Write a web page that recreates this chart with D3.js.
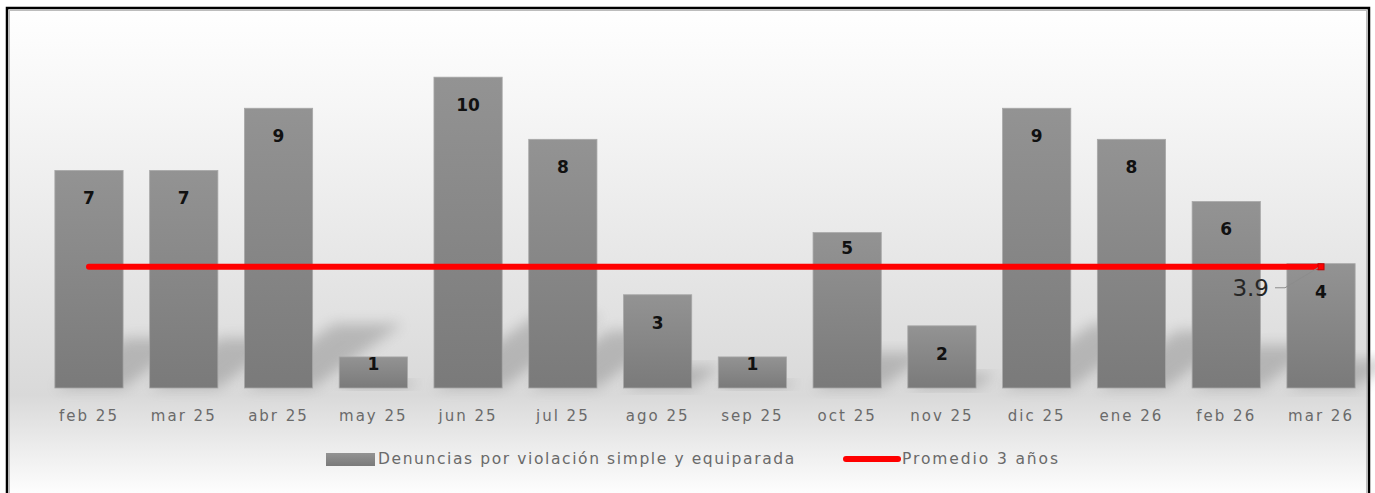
<!DOCTYPE html>
<html>
<head>
<meta charset="utf-8">
<script src="https://cdn.jsdelivr.net/npm/d3@7"></script>
<style>
  html, body { margin: 0; padding: 0; background: #fff; }
  svg { display: block; }
</style>
</head>
<body>
<script>
(function() {
    // chart data
    var months = ["feb 25", "mar 25", "abr 25", "may 25", "jun 25", "jul 25", "ago 25",
                  "sep 25", "oct 25", "nov 25", "dic 25", "ene 26", "feb 26", "mar 26"];
    var denuncias = [7, 7, 9, 1, 10, 8, 3, 1, 5, 2, 9, 8, 6, 4];
    var promedio = [3.9, 3.9, 3.9, 3.9, 3.9, 3.9, 3.9, 3.9, 3.9, 3.9, 3.9, 3.9, 3.9, 3.9];
    var seriesNames = ["Denuncias por violación simple y equiparada", "Promedio 3 años"];

    var width = 1375, height = 493;
    var baseY = 388, topY = 15;

    var svg = d3.select("body").append("svg")
        .attr("width", width)
        .attr("height", height);

    var defs = svg.append("defs");

    // chart area background
    var bg = defs.append("linearGradient")
        .attr("id", "bg").attr("x1", 0).attr("y1", 0).attr("x2", 0).attr("y2", 1);
    bg.append("stop").attr("offset", "0%").attr("stop-color", "#ffffff");
    bg.append("stop").attr("offset", "20%").attr("stop-color", "#f6f6f6");
    bg.append("stop").attr("offset", "79%").attr("stop-color", "#d9d9d9");
    bg.append("stop").attr("offset", "100%").attr("stop-color", "#ffffff");

    // bar fill
    var barGrad = defs.append("linearGradient")
        .attr("id", "barGrad").attr("x1", 0).attr("y1", 0).attr("x2", 0).attr("y2", 1);
    barGrad.append("stop").attr("offset", "0%").attr("stop-color", "#939393");
    barGrad.append("stop").attr("offset", "100%").attr("stop-color", "#7a7a7a");

    var blur = defs.append("filter").attr("id", "blur")
        .attr("x", "-30%").attr("y", "-30%").attr("width", "160%").attr("height", "160%");
    blur.append("feGaussianBlur").attr("stdDeviation", 7);

    svg.append("rect")
        .attr("x", 7).attr("y", 8)
        .attr("width", 1362).attr("height", 490)
        .attr("fill", "url(#bg)")
        .attr("stroke", "#000")
        .attr("stroke-width", 2.5);
    svg.append("rect")
        .attr("x", 9.5).attr("y", 10.5)
        .attr("width", 1357).attr("height", 490)
        .attr("fill", "none")
        .attr("stroke", "#bdbdbd")
        .attr("stroke-width", 1);

    // scales
    var x = d3.scaleBand()
        .domain(months)
        .range([41.6, 1368.4])
        .paddingInner(0.28)
        .paddingOuter(0.14);

    var y = d3.scaleLinear()
        .domain([0, 12])
        .range([baseY, topY]);

    var data = months.map(function(m, i) {
        return { month: m, value: denuncias[i], avg: promedio[i] };
    });

    // bar shadows
    svg.append("g").selectAll("polygon")
        .data(data)
        .enter()
            .append("polygon")
            .attr("points", function(d) {
                var x0 = x(d.month), x1 = x0 + x.bandwidth();
                var dy = (baseY - y(d.value)) * 0.23;
                var dx = dy * 1.4;
                return [[x0, baseY], [x1, baseY], [x1 + dx, baseY - dy], [x0 + dx, baseY - dy]].join(" ");
            })
            .attr("fill", "#5a5a5a")
            .attr("opacity", 0.3)
            .attr("filter", "url(#blur)");

    // bars
    svg.append("g").selectAll("rect")
        .data(data)
        .enter()
            .append("rect")
            .attr("x", function(d) { return x(d.month); })
            .attr("y", function(d) { return y(d.value); })
            .attr("width", x.bandwidth())
            .attr("height", function(d) { return baseY - y(d.value); })
            .attr("fill", "url(#barGrad)")
            .attr("stroke", "#a8a8a8")
            .attr("stroke-width", 0.8);

    // average line
    var line = d3.line()
        .x(function(d) { return x(d.month) + x.bandwidth() / 2; })
        .y(function(d) { return y(d.avg); });

    svg.append("path")
        .datum(data)
        .attr("d", line)
        .attr("fill", "none")
        .attr("stroke", "#ff0000")
        .attr("stroke-width", 6)
        .attr("stroke-linecap", "round");

    // value labels, moved up when they would sit on the average line
    svg.append("g").selectAll("text")
        .data(data)
        .enter()
            .append("text")
            .attr("x", function(d) { return x(d.month) + x.bandwidth() / 2; })
            .attr("y", function(d) {
                var top = y(d.value);
                var h = baseY - top;
                var off = h < 40 ? 7 : 28;
                if (Math.abs(top + off - y(d.avg)) < 14) off = 15;
                return top + off;
            })
            .attr("dy", "0.35em")
            .attr("text-anchor", "middle")
            .attr("font-family", "DejaVu Sans, sans-serif")
            .attr("font-weight", "bold")
            .attr("font-size", 17)
            .attr("fill", "#111")
            .text(function(d) { return d.value; });

    // label on last average point
    var last = data[data.length - 1];
    var lx = x(last.month) + x.bandwidth() / 2, ly = y(last.avg);
    svg.append("rect")
        .attr("x", lx - 3).attr("y", ly - 3)
        .attr("width", 6).attr("height", 6)
        .attr("fill", "#ff0000")
        .attr("stroke", "#c00000")
        .attr("stroke-width", 1);
    svg.append("path")
        .attr("d", "M" + (lx - 46) + "," + (ly + 21) + "H" + (lx - 36) + "L" + (lx - 3) + "," + (ly + 1))
        .attr("fill", "none")
        .attr("stroke", "#8c8c8c")
        .attr("stroke-width", 1);
    svg.append("text")
        .attr("x", lx - 52)
        .attr("y", ly + 21)
        .attr("dy", "0.35em")
        .attr("text-anchor", "end")
        .attr("font-family", "DejaVu Sans, sans-serif")
        .attr("font-size", 23)
        .attr("fill", "#262626")
        .text(d3.format(".1f")(last.avg));

    // x axis
    var xAxis = svg.append("g")
        .attr("transform", "translate(0," + baseY + ")")
        .call(d3.axisBottom(x).tickSize(0).tickPadding(22));
    xAxis.select(".domain").remove();
    xAxis.selectAll("text")
        .attr("font-family", "DejaVu Sans, sans-serif")
        .attr("font-size", 15)
        .attr("letter-spacing", 2)
        .attr("fill", "#6a6a6a");

    // legend
    var legend = svg.append("g").attr("transform", "translate(0,459)");
    legend.append("rect")
        .attr("x", 326).attr("y", -6)
        .attr("width", 49).attr("height", 13)
        .attr("fill", "url(#barGrad)");
    legend.append("text")
        .attr("x", 378).attr("y", 0).attr("dy", "0.35em")
        .attr("font-family", "DejaVu Sans, sans-serif")
        .attr("font-size", 15.5)
        .attr("letter-spacing", 1.6)
        .attr("fill", "#6a6a6a")
        .text(seriesNames[0]);
    legend.append("line")
        .attr("x1", 846).attr("x2", 898)
        .attr("y1", 0).attr("y2", 0)
        .attr("stroke", "#ff0000")
        .attr("stroke-width", 6)
        .attr("stroke-linecap", "round");
    legend.append("text")
        .attr("x", 902).attr("y", 0).attr("dy", "0.35em")
        .attr("font-family", "DejaVu Sans, sans-serif")
        .attr("font-size", 15.5)
        .attr("letter-spacing", 1.9)
        .attr("fill", "#6a6a6a")
        .text(seriesNames[1]);
})();
</script>
</body>
</html>
